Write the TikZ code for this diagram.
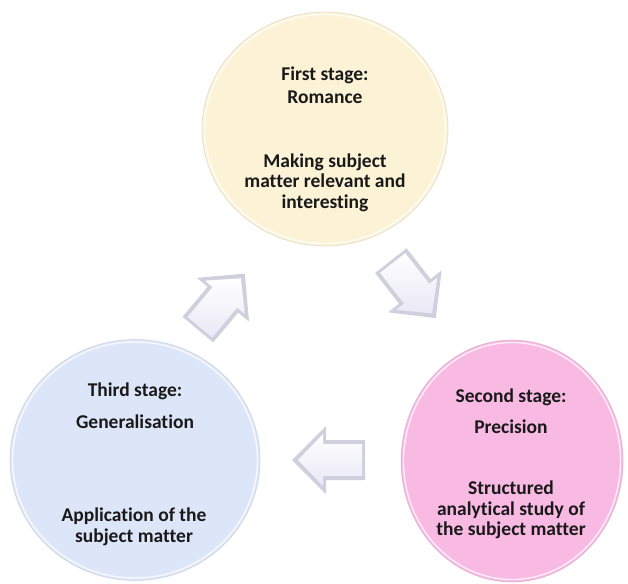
\documentclass[tikz,border=0pt]{standalone}
\usepackage{fontspec}
\setmainfont[Ligatures={NoCommon,NoRare}]{Carlito}
\usetikzlibrary{shapes.geometric}
\definecolor{cream}{HTML}{FCF3D6}
\definecolor{paleblue}{HTML}{DDE6F8}
\definecolor{pinkish}{HTML}{F8B9E2}
\definecolor{lav}{HTML}{DEDCF0}
\begin{document}
\begin{tikzpicture}[x=1pt,y=-1pt,
  stage/.style={ellipse, inner sep=0pt, fill=#1, draw=#1!75!black, draw opacity=0.35, line width=0.8pt},
  rim/.style={ellipse, inner sep=0pt, draw=white, line width=1.4pt, opacity=0.75},
  txt/.style={align=center, inner sep=0pt, text=black!90,
    font=\bfseries\fontsize{19.5}{20.5}\selectfont},
  barrow/.pic={
    \fill[lav!80!gray!90] (-36,-20) -- (3,-20) -- (3,-34) -- (37,0) -- (3,34) -- (3,20) -- (-36,20) -- cycle;
    \shade[top color=white, bottom color=lav!65]
      (-33,-16) -- (6,-16) -- (6,-26) -- (31,0) -- (6,26) -- (6,16) -- (-33,16) -- cycle;
  }]
\useasboundingbox (0,0) rectangle (628,583);
% stages
\node[stage=cream, minimum width=246pt, minimum height=234pt] (s1) at (325,129) {};
\node[rim, minimum width=241pt, minimum height=229pt] (r1) at (325,129) {};
\node[stage=pinkish, minimum width=222pt, minimum height=242pt] (s2) at (512,461) {};
\node[rim, minimum width=217pt, minimum height=237pt] (r2) at (512,461) {};
\node[stage=paleblue, minimum width=250pt, minimum height=241pt] (s3) at (135,460) {};
\node[rim, minimum width=245pt, minimum height=236pt] (r3) at (135,460) {};
% texts
\node[txt] (t1a) at (325,85.5) {First stage:\\[2.5pt]Romance};
\node[txt] (t1b) at (325,182.5) {Making subject\\matter relevant and\\interesting};
\node[txt] (t2a) at (511,411) {Second stage:\\[11pt]Precision};
\node[txt] (t2b) at (511,510) {Structured\\analytical study of\\the subject matter};
\node[txt] (t3a) at (135,405.5) {Third stage:\\[11pt]Generalisation};
\node[txt] (t3b) at (134,527) {Application of the\\subject matter};
% arrows
\pic[rotate=-52] (a12) at (413,289) {barrow};
\pic[rotate=180] (a23) at (329,460) {barrow};
\pic[rotate=50] (a31) at (221,302) {barrow};
\end{tikzpicture}
\end{document}
